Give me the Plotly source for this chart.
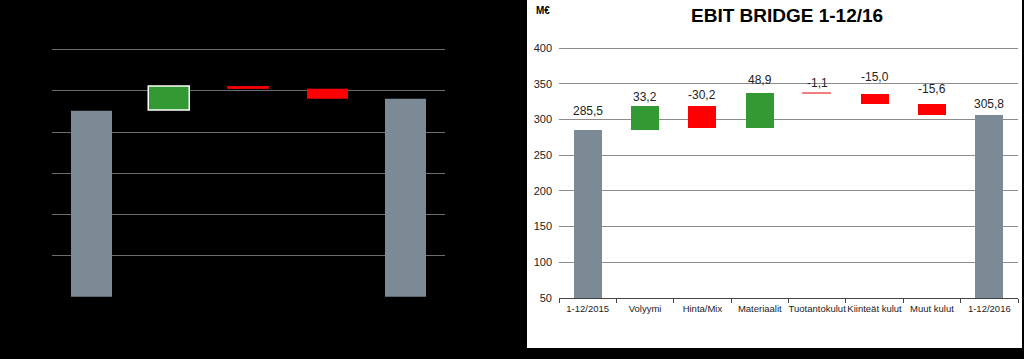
import plotly.graph_objects as go

# ---- data: right chart (EBIT bridge) ----
categories = ["1-12/2015", "Volyymi", "Hinta/Mix", "Materiaalit", "Tuotantokulut",
              "Kiinteät kulut", "Muut kulut", "1-12/2016"]
values = [285.5, 33.2, -30.2, 48.9, -1.1, -15.0, -15.6, 305.8]
is_total = [True, False, False, False, False, False, False, True]
y_ticks = [50, 100, 150, 200, 250, 300, 350, 400]

# ---- data: left (dark) chart, unlabeled ----
dark_categories = ["a", "b", "c", "d", "e"]
dark_values = [453, 58, -5, -25, 481]
dark_is_total = [True, False, False, False, True]
dark_ticks = [100, 200, 300, 400, 500, 600]

W, H = 1024, 359
GRAY = "#7b8a95"
GREEN = "#339933"
RED = "#ff0000"


def bridge(vals, totals):
    bases, heights, colors = [], [], []
    run = 0.0
    for v, t in zip(vals, totals):
        if t:
            bases.append(0)
            heights.append(v)
            colors.append(GRAY)
            run = v
        else:
            bases.append(run)
            heights.append(v)
            colors.append(GREEN if v >= 0 else RED)
            run += v
    return bases, heights, colors


def px(x):
    return x / W


def py(y):
    return (H - y) / H


fig = go.Figure()

# left dark chart
db, dh, dc = bridge(dark_values, dark_is_total)
fig.add_trace(go.Bar(
    x=dark_categories, y=dh, base=db, marker_color=dc,
    marker_line_color=["rgba(0,0,0,0)", "white", RED, "rgba(0,0,0,0)", "rgba(0,0,0,0)"],
    marker_line_width=[0, 1.5, 0.8, 0, 0],
    width=0.52, xaxis="x", yaxis="y", showlegend=False, hoverinfo="skip"))

# right EBIT chart
rb, rh, rc = bridge(values, is_total)
line_cols = [("#f08080" if abs(v) < 2 else "rgba(0,0,0,0)") for v in values]
line_w = [(1 if abs(v) < 2 else 0) for v in values]
fig.add_trace(go.Bar(
    x=categories, y=rh, base=rb, marker_color=rc,
    marker_line_color=line_cols, marker_line_width=line_w,
    width=0.49, xaxis="x2", yaxis="y2", showlegend=False, hoverinfo="skip"))

label_shift = [10, 0, 2, 4, 1, 8, 6, 2]
annotations = []
for c, b, h, v, s in zip(categories, rb, rh, values, label_shift):
    top = max(b, b + h)
    annotations.append(dict(
        x=c, y=top, xref="x2", yref="y2", text=f"{v:.1f}".replace(".", ","),
        showarrow=False, yanchor="bottom", yshift=s,
        font=dict(family="Liberation Sans, Arial", size=12, color="#222222")))

annotations.append(dict(
    x=px(787), y=py(16), xref="paper", yref="paper", text="<b>EBIT BRIDGE 1-12/16</b>",
    showarrow=False, xanchor="center", yanchor="middle",
    font=dict(family="Liberation Sans, Arial", size=19, color="black")))
annotations.append(dict(
    x=px(543), y=py(10), xref="paper", yref="paper", text="<b>M€</b>",
    showarrow=False, xanchor="center", yanchor="middle",
    font=dict(family="Liberation Sans, Arial", size=10, color="black")))

fig.update_layout(
    width=W, height=H, autosize=False,
    margin=dict(l=0, r=0, t=0, b=0, pad=0, autoexpand=False),
    paper_bgcolor="black", plot_bgcolor="rgba(0,0,0,0)",
    bargap=0,
    shapes=[dict(type="rect", xref="paper", yref="paper",
                 x0=px(527), x1=px(1022), y0=py(348), y1=py(0),
                 fillcolor="white", line_width=0, layer="below")],
    annotations=annotations,
    xaxis=dict(domain=[px(52), px(445)], showgrid=False, showticklabels=False,
               showline=False, zeroline=False, ticks="", automargin=False),
    yaxis=dict(domain=[py(297), py(297 - 6.12 * 41.2)], range=[0, 612], tickvals=dark_ticks,
               showticklabels=False, gridcolor="#6c6c6c", gridwidth=1.2,
               zeroline=False, showline=False, ticks="", automargin=False),
    xaxis2=dict(domain=[px(559), px(1018)], anchor="y2", showgrid=False,
                showline=True, linecolor="#444444", linewidth=1,
                ticks="outside", tickson="boundaries", ticklen=4, tickcolor="#444444",
                tickangle=0, automargin=False, ticklabelstandoff=2,
                tickfont=dict(family="Liberation Sans, Arial", size=9.5, color="#222222"),
                zeroline=False),
    yaxis2=dict(domain=[py(298), py(47)], anchor="x2", range=[50, 401.5], tickvals=y_ticks,
                gridcolor="#8c8c8c", gridwidth=1, zeroline=False, showline=False,
                ticks="", ticklabelstandoff=6, automargin=False,
                tickfont=dict(family="Liberation Sans, Arial", size=11, color="#222222")),
)

fig.write_html("out.html", config={"displayModeBar": False},
               post_script="document.body.style.margin='0';document.body.style.overflow='hidden';")
